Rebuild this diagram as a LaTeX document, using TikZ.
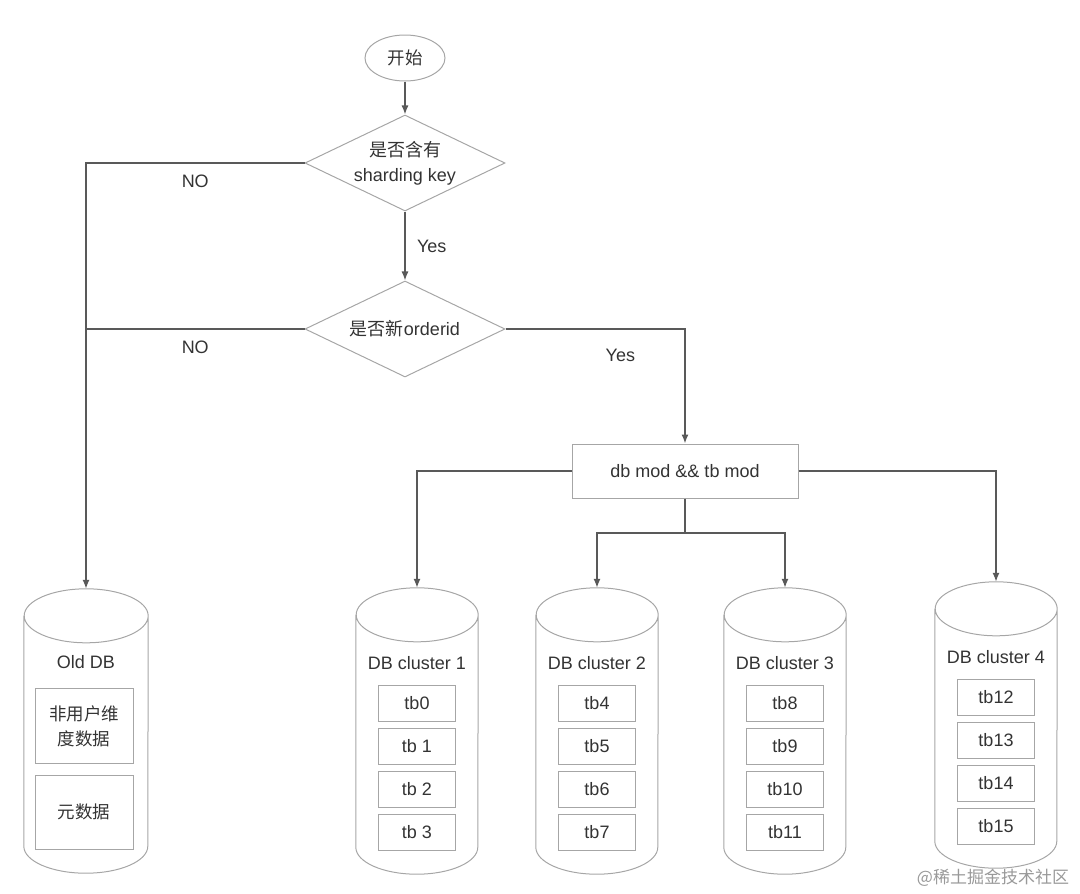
\documentclass[tikz,border=0pt]{standalone}
\usepackage{fontspec}
\setmainfont{Liberation Sans}
\newfontfamily\cjk{Noto Sans CJK SC}
\usetikzlibrary{arrows.meta,shapes.geometric,positioning}

\begin{document}
\begin{tikzpicture}[x=1pt,y=-1pt,
                every node/.style = {font=\fontsize{18}{25}\selectfont, text=black!80, align=center},
                cn/.style = {font=\fontsize{17.5}{25}\selectfont\cjk},
                shape line/.style = {draw=black!35, line width=1pt},
                line/.style = {draw=black!65, line width=1.4pt},
                arrow/.style = {line, -{Latex[length=9pt,width=7pt]}},
                terminal/.style = {ellipse, shape line, minimum width=80pt, minimum height=46pt},
                decision/.style = {diamond, shape line, minimum width=200pt, minimum height=96pt, aspect=2.08, inner sep=0pt},
                process/.style = {rectangle, shape line, minimum width=226pt, minimum height=54pt},
                db/.style = {rectangle, minimum width=122pt, minimum height=286pt},
                table/.style = {rectangle, shape line, minimum width=77pt, minimum height=36pt}
                ]
                \useasboundingbox (0,0) rectangle (1080,894);
                \node[terminal, cn] (start) at (405,58) {开始};
                \node[decision] (d1) at (405,163) {{\cjk 是否含有}\\sharding key};
                \node[decision] (d2) at (405,329) {{\cjk 是否新}orderid};
                \node[process] (mod) at (685,471) {db mod \&\& tb mod};
                \coordinate (split) at (685,533);

                \node[db, minimum width=124pt, minimum height=284pt] (old) at (86,731) {};
                \draw[shape line] ([yshift=-27pt]old.north west) -- ([yshift=27pt]old.south west)
                    arc[start angle=180, end angle=360, x radius=62pt, y radius=27pt]
                    -- ([yshift=-27pt]old.north east)
                    arc[start angle=0, end angle=360, x radius=62pt, y radius=27pt];
                \node (old-label) at (86,662) {Old DB};
                \node[shape line, cn, minimum width=98pt, minimum height=75pt] (dim) at (84,726) {非用户维\\度数据};
                \node[shape line, cn, minimum width=98pt, minimum height=74pt] (meta) at (84,812) {元数据};

                \foreach \cx/\cy/\n/\ta/\tb/\tc/\td in {417/0/1/tb0/tb 1/tb 2/tb 3,
                                                        597/0/2/tb4/tb5/tb6/tb7,
                                                        785/0/3/tb8/tb9/tb10/tb11,
                                                        996/-6/4/tb12/tb13/tb14/tb15} {
                    \node[db] (c\n) at (\cx,731+\cy) {};
                    \draw[shape line] ([yshift=-27pt]c\n.north west) -- ([yshift=27pt]c\n.south west)
                        arc[start angle=180, end angle=360, x radius=61pt, y radius=27pt]
                        -- ([yshift=-27pt]c\n.north east)
                        arc[start angle=0, end angle=360, x radius=61pt, y radius=27pt];
                    \node (c\n-label) at (\cx,663+\cy) {DB cluster \n};
                    \node[table] (c\n-t1) at (\cx,703+\cy) {\ta};
                    \node[table] (c\n-t2) at (\cx,746+\cy) {\tb};
                    \node[table] (c\n-t3) at (\cx,789+\cy) {\tc};
                    \node[table] (c\n-t4) at (\cx,832+\cy) {\td};
                }

                \draw[arrow] (start) -- (d1);
                \draw[arrow] (d1) -- node[right=8pt] {Yes} (d2);
                \draw[arrow] (d1.west) -| node[below=8pt, pos=0.25] {NO} (old.north);
                \draw[line] (d2.west) -- node[below=8pt] {NO} (d2.west -| old.north);
                \draw[arrow] (d2.east) -| node[below=16pt, pos=0.32] {Yes} (mod.north);
                \draw[arrow] (mod.west) -| (c1.north);
                \draw[arrow] (mod.east) -| (c4.north);
                \draw[line] (mod.south) -- (split);
                \draw[arrow] (split) -| (c2.north);
                \draw[arrow] (split) -| (c3.north);

                \node[font=\fontsize{17}{18}\selectfont\cjk, text=black!40] (mark) at (993,878) {@稀土掘金技术社区};
\end{tikzpicture}
\end{document}
